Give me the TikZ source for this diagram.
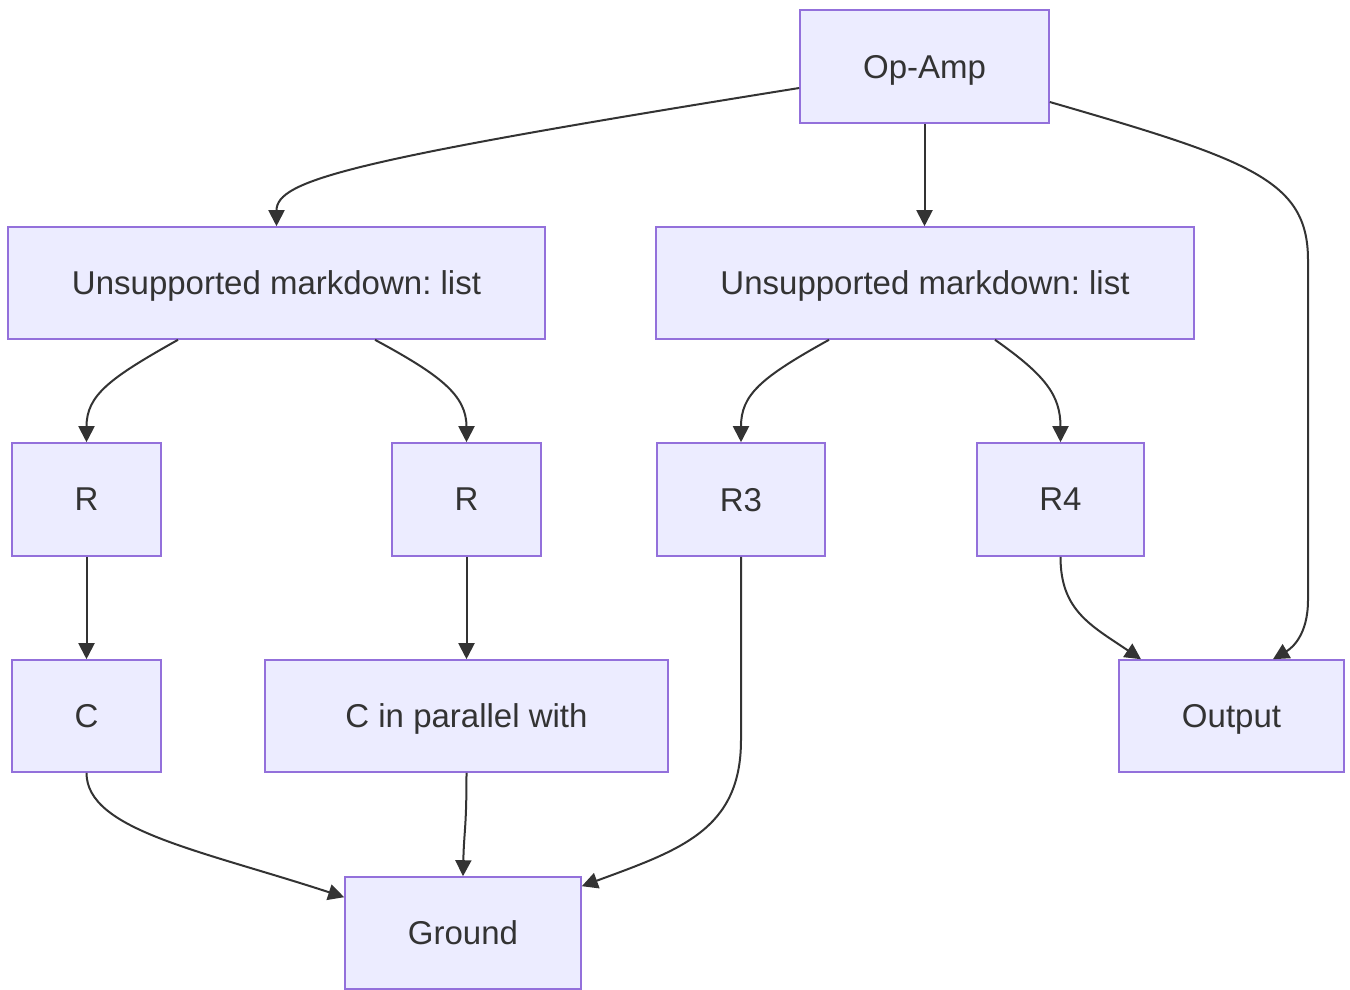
\documentclass[tikz,border=0pt]{standalone}
\usepackage{fontspec}
\setmainfont{Liberation Sans}
\frenchspacing
\usetikzlibrary{arrows.meta}
\definecolor{boxfill}{HTML}{ECECFF}
\definecolor{boxline}{HTML}{9370DB}
\definecolor{edgecol}{HTML}{333333}
\begin{document}
\begin{tikzpicture}[x=1pt,y=-1pt,
  box/.style={draw=boxline,fill=boxfill,line width=1.6pt,inner sep=0pt,
    text depth=0pt,text=edgecol,font=\fontsize{33}{40}\selectfont},
  edge/.style={draw=edgecol,line width=2pt,
    -{Triangle[length=16pt,width=16pt]}}]
\useasboundingbox (0,0) rectangle (1350,989);
% boxes
\node[box,minimum width=249pt,minimum height=113pt] (opamp) at (924.5,66.5) {Op-Amp};
\node[box,minimum width=537pt,minimum height=112pt] (listA) at (276.5,283) {Unsupported markdown: list};
\node[box,minimum width=538pt,minimum height=112pt] (listB) at (925,283) {Unsupported markdown: list};
\node[box,minimum width=149pt,minimum height=113pt] (ra) at (86.5,499.5) {R};
\node[box,minimum width=149pt,minimum height=113pt] (rb) at (466.5,499.5) {R};
\node[box,minimum width=168pt,minimum height=113pt] (rthree) at (741,499.5) {R3};
\node[box,minimum width=167pt,minimum height=113pt] (rfour) at (1060.5,499.5) {R4};
\node[box,minimum width=149pt,minimum height=112pt] (cap) at (86.5,716) {C};
\node[box,minimum width=403pt,minimum height=112pt] (cpar) at (466.5,716) {C in parallel with};
\node[box,minimum width=225pt,minimum height=112pt] (out) at (1231.5,716) {Output};
\node[box,minimum width=236pt,minimum height=112pt] (gnd) at (463,933) {Ground};
% connectors
\draw[edge] ([yshift=-21.5pt]opamp.west) .. controls (350,160) and (276.5,180) .. (listA.north);
\draw[edge] (opamp.south) -- (listB.north -| opamp.south);
\draw[edge] ([yshift=-35.5pt]opamp.east) .. controls (1250,160) and (1308,180) .. (1308,260)
  -- (1308,600) .. controls (1308,635) and (1292,648) .. ([xshift=41.5pt]out.north);
\draw[edge] ([xshift=-98.5pt]listA.south) .. controls (110,378) and (86.5,395) .. (ra.north);
\draw[edge] ([xshift=98.5pt]listA.south) .. controls (440,375) and (466.5,395) .. (rb.north);
\draw[edge] ([xshift=-96pt]listB.south) .. controls (760,378) and (741,395) .. (rthree.north);
\draw[edge] ([xshift=70pt]listB.south) .. controls (1045,375) and (1060.5,395) .. (rfour.north);
\draw[edge] (ra.south) -- (cap.north);
\draw[edge] (rb.south) -- (cpar.north);
\draw[edge] (rthree.south) -- (741,740) .. controls (741,830) and (680,850) .. ([yshift=-10pt]gnd.north east);
\draw[edge] (rfour.south) .. controls (1060.5,610) and (1090,625) .. ([xshift=-90.5pt]out.north);
\draw[edge] (cap.south) .. controls (86.5,830) and (200,850) .. ([yshift=-21pt]gnd.north west);
\draw[edge] (cpar.south) .. controls (466.5,830) and (464,830) .. (gnd.north);
\end{tikzpicture}
\end{document}
